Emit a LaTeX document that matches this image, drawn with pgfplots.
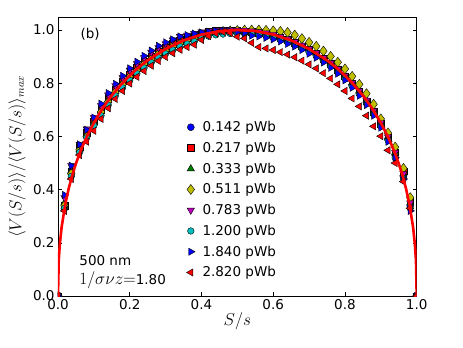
\documentclass[border=0pt]{standalone}
\usepackage{fontspec}
\setmainfont{DejaVu Sans}
\usepackage{pgfplots}
\usepackage{pgfplotstable}
\pgfplotsset{compat=1.18}
\usetikzlibrary{calc}

\definecolor{cblue}{rgb}{0,0,1}
\definecolor{cred}{rgb}{1,0,0}
\definecolor{cgreen}{rgb}{0,0.5,0}
\definecolor{cyellow}{rgb}{0.75,0.75,0}
\definecolor{cmag}{rgb}{0.75,0,0.75}
\definecolor{ccyan}{rgb}{0,0.75,0.75}

% normalised <V(S/s)> for the eight fluxes
\pgfplotstableread{
x a b c d e f g h
0 0 0 0 0 0 0 0 0
0.018 .33 .34 .35 .34 .37 .33 .38 .32
0.037 .46 .47 .47 .46 .49 .45 .49 .44
0.06 .55 .56 .55 .55 .57 .54 .57 .53
0.08 .605 .615 .607 .600 .628 .595 .625 .580
0.10 .646 .657 .653 .645 .671 .641 .671 .621
0.12 .690 .701 .695 .692 .716 .678 .723 .666
0.14 .731 .742 .738 .730 .756 .718 .763 .706
0.16 .766 .775 .770 .767 .791 .753 .798 .741
0.18 .796 .807 .803 .795 .821 .783 .828 .771
0.20 .824 .833 .828 .825 .849 .811 .856 .799
0.22 .849 .860 .856 .848 .874 .836 .881 .824
0.24 .870 .881 .875 .872 .896 .858 .903 .846
0.26 .891 .901 .897 .890 .916 .878 .923 .866
0.28 .909 .919 .913 .910 .934 .896 .941 .884
0.30 .924 .934 .930 .923 .949 .911 .954 .899
0.32 .938 .948 .943 .939 .963 .925 .965 .913
0.34 .951 .960 .957 .950 .976 .938 .976 .926
0.36 .961 .971 .966 .962 .981 .948 .981 .936
0.38 .970 .979 .976 .969 .987 .957 .987 .945
0.40 .978 .988 .983 .978 .993 .971 .991 .963
0.42 .984 .993 .990 .984 .997 .977 .994 .977
0.44 .989 .998 .994 .989 .999 .982 .997 .988
0.46 .992 1.000 .998 .992 1.000 .985 .997 .993
0.48 .994 1.000 1.000 .995 1.000 .987 .996 .989
0.50 .995 .999 1.000 .998 .999 .988 .990 .975
0.52 .991 .996 .999 1.000 .999 .987 .989 .969
0.54 .989 .994 .998 1.000 .997 .985 .979 .952
0.56 .986 .991 .994 1.000 .994 .982 .976 .936
0.58 .981 .986 .990 .999 .989 .977 .971 .931
0.60 .975 .980 .983 .997 .983 .971 .965 .925
0.62 .967 .972 .976 .995 .975 .963 .957 .917
0.64 .958 .963 .966 .991 .966 .954 .948 .908
0.66 .948 .953 .957 .981 .956 .944 .938 .898
0.68 .935 .940 .943 .968 .943 .931 .925 .885
0.70 .921 .926 .930 .954 .929 .917 .911 .871
0.72 .906 .911 .914 .939 .914 .902 .896 .856
0.74 .888 .893 .897 .921 .896 .884 .878 .838
0.76 .868 .873 .876 .901 .876 .864 .858 .818
0.78 .846 .851 .855 .879 .854 .842 .836 .796
0.80 .821 .826 .829 .854 .829 .817 .811 .771
0.82 .793 .798 .802 .826 .801 .789 .783 .743
0.84 .763 .768 .771 .796 .771 .759 .753 .713
0.86 .728 .733 .737 .761 .736 .724 .718 .678
0.88 .688 .693 .696 .721 .696 .684 .678 .638
0.90 .643 .648 .652 .666 .651 .639 .633 .601
0.92 .590 .595 .598 .613 .598 .586 .580 .548
0.94 .53 .54 .54 .56 .54 .52 .52 .50
0.963 .45 .47 .46 .48 .46 .44 .44 .43
0.982 .34 .36 .35 .37 .35 .33 .32 .33
1 0 0 0 0 0 0 0 0
}\data

% scaling curve
\pgfplotstableread{
x y
0 0
0.002 0.132
0.005 0.193
0.01 0.258
0.02 0.343
0.03 0.405
0.04 0.455
0.05 0.498
0.06 0.535
0.07 0.568
0.08 0.598
0.10 0.651
0.125 0.707
0.15 0.754
0.175 0.794
0.2 0.829
0.225 0.860
0.25 0.886
0.3 0.929
0.35 0.961
0.4 0.983
0.45 0.996
0.5 1.0
0.55 0.996
0.6 0.983
0.65 0.961
0.7 0.929
0.75 0.886
0.775 0.860
0.8 0.829
0.825 0.794
0.85 0.754
0.875 0.707
0.9 0.651
0.92 0.598
0.93 0.568
0.94 0.535
0.95 0.498
0.96 0.455
0.97 0.405
0.98 0.343
0.99 0.258
0.995 0.193
0.998 0.132
1 0
}\curve

\begin{document}
\begin{tikzpicture}
\begin{axis}[
  scale only axis,
  width=358.7bp, height=278.7bp,
  xmin=0, xmax=1, ymin=0, ymax=1.048,
  clip marker paths=true,
  xtick={0,0.2,0.4,0.6,0.8,1.0},
  ytick={0,0.2,0.4,0.6,0.8,1.0},
  tick align=inside, tick pos=both,
  major tick length=4bp,
  tick style={black, line width=0.6bp},
  axis line style={line width=0.8bp},
  /pgf/number format/fixed,
  /pgf/number format/fixed zerofill,
  /pgf/number format/precision=1,
  /pgf/number format/assume math mode=true,
  tick label style={font=\fontsize{13.5bp}{15bp}\selectfont},
  xlabel={$S/s$},
  ylabel={$\langle V(S/s)\rangle/\langle V(S/s)\rangle_{max}$},
  xlabel style={font=\fontsize{16bp}{18bp}\selectfont, at={(axis description cs:0.5,-0.09)}, anchor=center},
  ylabel style={font=\fontsize{16bp}{18bp}\selectfont, at={(axis description cs:-0.114,0.5)}, anchor=center},
  legend style={at={(axis cs:0.358,0.665)}, anchor=north west, draw=none, fill=none,
    inner sep=0pt, row sep=5bp, column sep=5.5bp,
    nodes={inner sep=2bp, text depth=0.15em},
    font=\fontsize{13.5bp}{15bp}\selectfont},
  legend cell align=left,
]
\addplot[only marks, color=cblue, mark=*, mark size=3.5bp, mark options={draw=black, line width=0.4bp}] table[x=x,y=a]{\data};
\addlegendentry{0.142 pWb}
\addplot[only marks, color=cred, mark=square*, mark size=3.3bp, mark options={draw=black, line width=0.4bp}] table[x=x,y=b]{\data};
\addlegendentry{0.217 pWb}
\addplot[only marks, color=cgreen, mark=triangle*, mark size=4.2bp, mark options={draw=black, line width=0.4bp}] table[x=x,y=c]{\data};
\addlegendentry{0.333 pWb}
\addplot[only marks, color=cyellow, mark=diamond*, mark size=5bp, mark options={draw=black, line width=0.4bp}] table[x=x,y=d]{\data};
\addlegendentry{0.511 pWb}
\addplot[only marks, color=cmag, mark=triangle*, mark size=4.2bp, mark options={draw=black, line width=0.4bp, rotate=180}] table[x=x,y=e]{\data};
\addlegendentry{0.783 pWb}
\addplot[only marks, color=ccyan, mark=*, mark size=3.3bp, mark options={draw=black, line width=0.4bp}] table[x=x,y=f]{\data};
\addlegendentry{1.200 pWb}
\addplot[only marks, color=cblue, mark=triangle*, mark size=4.2bp, mark options={draw=black, line width=0.4bp, rotate=-90}] table[x=x,y=g]{\data};
\addlegendentry{1.840 pWb}
\addplot[only marks, color=cred, mark=triangle*, mark size=4.2bp, mark options={draw=black, line width=0.4bp, rotate=90}] table[x=x,y=h]{\data};
\addlegendentry{2.820 pWb}
\addplot[forget plot, no markers, color=cred, line width=2.6bp, line join=round] table[x=x,y=y]{\curve};

\node[anchor=west, font=\fontsize{13.5bp}{15bp}\selectfont] at (axis cs:0.053,0.985) {(b)};
\node[anchor=west, font=\fontsize{13.5bp}{15bp}\selectfont] at (axis cs:0.05,0.135) {500 nm};
\node[anchor=west, font=\fontsize{13.5bp}{15bp}\selectfont] at (axis cs:0.05,0.06) {{\fontsize{16bp}{18bp}\selectfont$1/\sigma\nu z{=}$}1.80};
\end{axis}
\pgfresetboundingbox
\path ($(current axis.south west)+(-58bp,-52bp)$) rectangle ($(current axis.north east)+(46.3bp,17.3bp)$);
\end{tikzpicture}
\end{document}
